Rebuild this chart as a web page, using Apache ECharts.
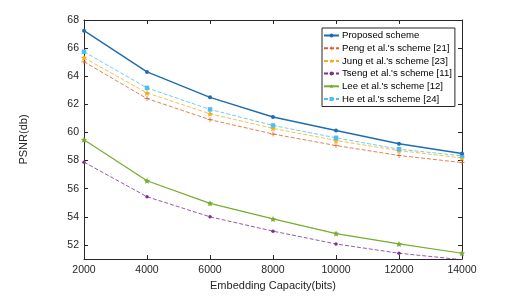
<!DOCTYPE html>
<html><head><meta charset="utf-8">
<script src="https://cdn.jsdelivr.net/npm/echarts@6/dist/echarts.min.js"></script>
<style>html,body{margin:0;padding:0;background:#fff}#c{width:510px;height:303px}</style>
</head><body><div id="c"></div>
<script>
const categories = [2000, 4000, 6000, 8000, 10000, 12000, 14000];
const proposed = [67.24, 64.31, 62.5, 61.1, 60.14, 59.2, 58.5];
const peng = [65.03, 62.41, 60.91, 59.89, 59.07, 58.36, 57.86];
const jung = [65.31, 62.81, 61.33, 60.29, 59.43, 58.71, 58.19];
const tseng = [57.89, 55.43, 54.0, 52.98, 52.07, 51.41, 50.95];
const lee = [59.48, 56.57, 54.96, 53.85, 52.81, 52.07, 51.41];
const he = [65.74, 63.17, 61.64, 60.5, 59.62, 58.81, 58.34];
const yTicks = [52, 54, 56, 58, 60, 62, 64, 66, 68];
const names = ["Proposed scheme", "Peng et al.'s scheme [21]", "Jung et al.'s scheme [23]", "Tseng et al.'s scheme [11]", "Lee et al.'s scheme [12]", "He et al.'s scheme [24]"];

const starPath = 'path://M0,-10 L2.9,-4 L9.5,-3.1 L4.8,1.5 L5.9,8.1 L0,5 L-5.9,8.1 L-4.8,1.5 L-9.5,-3.1 L-2.9,-4 Z';
const plusPath = 'path://M-1.5,-10 L1.5,-10 L1.5,-1.5 L10,-1.5 L10,1.5 L1.5,1.5 L1.5,10 L-1.5,10 L-1.5,1.5 L-10,1.5 L-10,-1.5 L-1.5,-1.5 Z';

function mk(name, data, color, dashed, width, symbol, size) {
  return {
    name, type: 'line', data: categories.map((c, i) => [c, data[i]]),
    symbol, symbolSize: size, showSymbol: true,
    lineStyle: { color, width, type: dashed ? [4, 2] : 'solid' },
    itemStyle: { color },
    animation: false, z: dashed ? 2 : 3
  };
}
const axisCol = '#262626';
const font = 'Liberation Sans, Arial';
const chart = echarts.init(document.getElementById('c'));
chart.setOption({
  animation: false,
  grid: { left: 84, right: 48, top: 20, bottom: 44 },
  legend: {
    orient: 'vertical', left: 322, top: 28,
    data: names,
    backgroundColor: '#fff', borderColor: '#262626', borderWidth: 1,
    padding: [2, 3, 2, 1], itemGap: 1.7, itemWidth: 15, itemHeight: 5,
    textStyle: { fontSize: 9.6, lineHeight: 11, color: '#000', fontFamily: font, padding: [0,0,0,-2] }
  },
  xAxis: [{
    type: 'value', min: 2000, max: 14000, interval: 2000,
    name: 'Embedding Capacity(bits)', nameLocation: 'middle', nameGap: 20,
    nameTextStyle: { fontSize: 11, color: axisCol, fontFamily: font },
    axisLine: { lineStyle: { color: axisCol, width: 1 } },
    axisTick: { inside: true, length: 4, lineStyle: { color: axisCol } },
    axisLabel: { fontSize: 10.5, color: axisCol, margin: 6, fontFamily: font, formatter: v => String(v) },
    splitLine: { show: false }
  }, {
    type: 'value', position: 'top', min: 2000, max: 14000, interval: 2000,
    axisLine: { show: true, lineStyle: { color: axisCol, width: 1 } },
    axisTick: { inside: true, length: 4, lineStyle: { color: axisCol } },
    axisLabel: { show: false }, splitLine: { show: false }
  }],
  yAxis: [{
    type: 'value', min: 51, max: 68,
    name: 'PSNR(db)', nameLocation: 'middle', nameGap: 55,
    nameTextStyle: { fontSize: 11, color: axisCol, fontFamily: font },
    axisLine: { show: true, lineStyle: { color: axisCol, width: 1 } },
    axisTick: { show: true, inside: true, length: 4, customValues: yTicks, lineStyle: { color: axisCol } },
    axisLabel: { fontSize: 10.5, color: axisCol, margin: 5, customValues: yTicks, fontFamily: font },
    splitLine: { show: false }
  }, {
    type: 'value', position: 'right', min: 51, max: 68,
    axisLine: { show: true, lineStyle: { color: axisCol, width: 1 } },
    axisTick: { show: true, inside: true, length: 4, customValues: yTicks, lineStyle: { color: axisCol } },
    axisLabel: { show: false }, splitLine: { show: false }
  }],
  series: [
    mk(names[0], proposed, '#1f6db0', false, 1.4, 'circle', 4),
    mk(names[1], peng, '#d9622b', true, 0.8, plusPath, 5),
    mk(names[2], jung, '#edb120', true, 0.8, starPath, 6),
    mk(names[3], tseng, '#7e2f8e', true, 0.8, 'circle', 3.5),
    mk(names[4], lee, '#77ac30', false, 1.2, starPath, 6),
    mk(names[5], he, '#4dbeee', true, 0.8, 'rect', 4.5)
  ]
});
</script></body></html>
